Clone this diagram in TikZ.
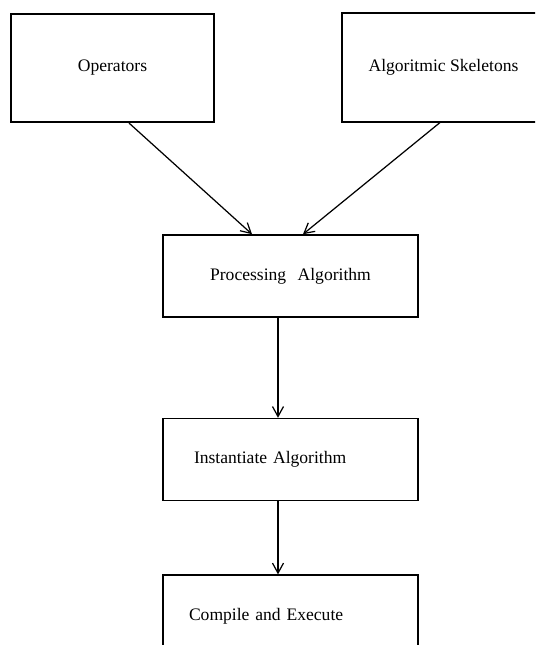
\documentclass[tikz,border=0pt]{standalone}
\usepackage{fontspec}
\setmainfont{Liberation Serif}
\usetikzlibrary{arrows.meta,positioning}

\begin{document}
\begin{tikzpicture}[
    node distance=2cm,
    block/.style={rectangle, draw=black, line width=0.9pt,
                  minimum width=5.1cm, minimum height=1.64cm, align=center},
    source/.style={block, minimum width=4.05cm, minimum height=2.17cm},
    arrow/.style={-{Straight Barb[length=2mm,width=2.2mm]}, line width=0.7pt}
]
    \useasboundingbox (0,0) rectangle (10.7,-12.9);
    \clip (0,0) rectangle (10.7,-12.9);

    \node[source] (ops) at (2.25,-1.36) {Operators};
    \node[source] (skel) at (8.87,-1.35) {Algoritmic Skeletons};
    \node[block] (proc) at (5.81,-5.52) {Processing\hspace{0.65em}Algorithm};
    \node[block, below=of proc, align=left, inner xsep=0.62cm,
          text width=3.86cm] (inst) {Instantiate Algorithm};
    \node[block, below=1.46cm of inst, align=left, inner xsep=0.52cm,
          text width=4.06cm] (comp) {Compile and Execute};

    \draw[arrow] ([xshift=0.33cm]ops.south) -- ([xshift=-0.77cm]proc.north);
    \draw[arrow] ([xshift=-0.07cm]skel.south) -- ([xshift=0.25cm]proc.north);
    \draw[arrow] ([xshift=-0.25cm]proc.south) -- ([xshift=-0.25cm]inst.north);
    \draw[arrow] ([xshift=-0.25cm]inst.south) -- ([xshift=-0.25cm]comp.north);
\end{tikzpicture}
\end{document}
